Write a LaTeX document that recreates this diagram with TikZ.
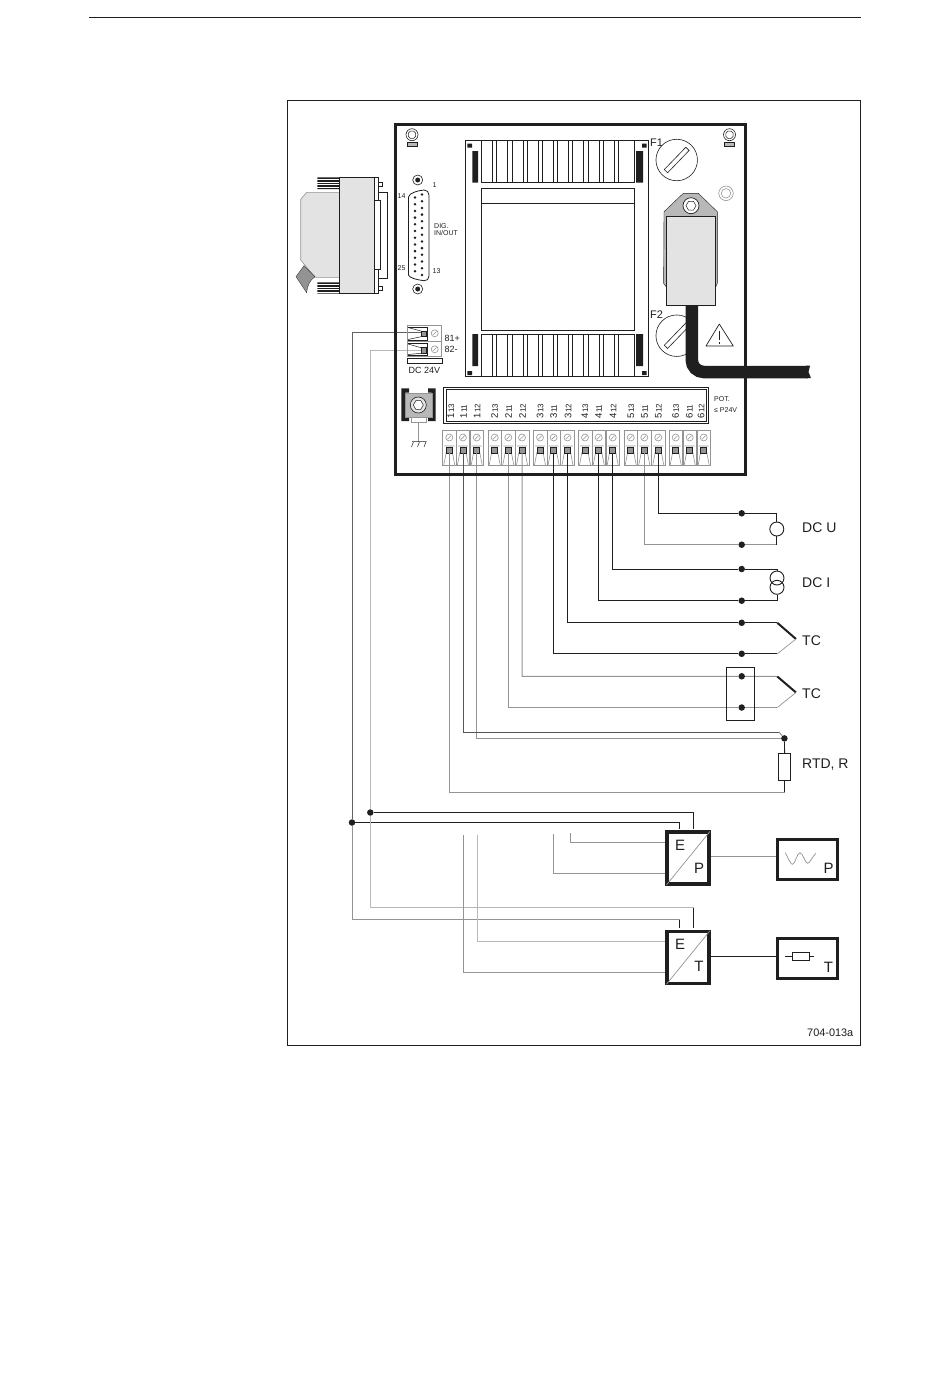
\documentclass[tikz,border=0pt]{standalone}
\usepackage{fontspec}
\setmainfont{Liberation Sans}
\usetikzlibrary{shapes.geometric,calc}
\definecolor{wgray}{gray}{0.58}
\definecolor{lgray}{gray}{0.89}
\definecolor{mgray}{gray}{0.72}
\definecolor{ink}{gray}{0.12}
\tikzset{
  wk/.style={draw=ink,line width=0.9pt,line join=miter},
  wg/.style={draw=wgray,line width=1pt},
  dot/.style={circle,fill=ink,draw=none,minimum size=6.5pt,inner sep=0pt},
  lab/.style={inner sep=0pt,font=\fontsize{14}{14}\selectfont,text=ink},
  smalllab/.style={inner sep=0pt,font=\fontsize{7}{8}\selectfont,text=ink},
  midlab/.style={inner sep=0pt,font=\fontsize{9}{9}\selectfont,text=ink},
  conv/.style={draw=ink,line width=3.5pt,fill=white},
  thin/.style={draw=ink,line width=0.6pt},
  fine/.style={draw=wgray,line width=0.6pt},
  screw/.style={circle,draw=wgray,line width=0.6pt,minimum size=7pt,inner sep=0pt},
}
\newcommand{\labnum}[2]{{\fontsize{9.5}{10}\selectfont #1\kern0.6pt}{\fontsize{8}{9}\selectfont #2}}
\begin{document}
\begin{tikzpicture}[x=1pt,y=-1pt]
\useasboundingbox (0,0) rectangle (950,1398);
\fill[white] (0,0) rectangle (950,1398);
% page rule and frame
\coordinate (ruleA) at (89,17); \coordinate (ruleB) at (861,17);
\draw[ink,line width=1pt] (ruleA) -- (ruleB);
\draw[ink,line width=0.8pt] (287.5,100.5) rectangle (860.5,1045);
\node[inner sep=0pt,anchor=east,font=\fontsize{10.9}{11}\selectfont,text=ink] (code) at (853.5,1032.5) {704-013a};

% external sub-D plug
\fill[ink] (317.3,177.3) rectangle (339.3,189) (317.3,282.3) rectangle (339.3,293.7);
\foreach \i in {0,...,3}{
  \draw[white,line width=0.5pt] (317.3,179+2.8*\i) -- (339.3,179+2.8*\i);
  \draw[white,line width=0.5pt] (317.3,284+2.8*\i) -- (339.3,284+2.8*\i);
}
\draw[wgray,line width=0.6pt,fill=lgray] (339.3,192.3) -- (306.7,192.3) -- (300.7,199.3) -- (300.7,260) -- (315,277.3) -- (339.3,277.3) -- cycle;
\draw[ink,line width=0.3pt,fill=gray!85!white] (304,265.7) -- (296,276.7) -- (306.7,292.7) .. controls (307.5,285) and (310,280) .. (315,276.7) -- cycle;
\draw[ink,line width=0.8pt,fill=lgray] (339.3,177.3) rectangle (374.3,293.7);
\draw[ink,line width=0.8pt,fill=white] (374.3,177.3) rectangle (378.7,293.7);
\draw[ink,line width=0.8pt,fill=white] (378.7,182.3) rectangle (382.7,186.3);
\draw[ink,line width=0.8pt,fill=white] (378.7,286.3) rectangle (382.7,290.3);
\draw[ink,line width=0.8pt,fill=white] (378.7,192) rectangle (387.7,278.7);
\draw[ink,line width=0.8pt,fill=white] (374.3,200.7) rectangle (380.7,269.3);

% terminals
\foreach \n/\x in {1/449.3,2/462.9,3/476.7,4/494.7,5/508.3,6/522,7/540,8/553.6,9/567.5,10/585,11/598.7,12/612.7,13/630.7,14/644.3,15/658.3,16/675.7,17/689.7,18/703.7}{
  \coordinate (T\n) at (\x,453);
  \draw[fine,fill=white] (\x-6.8,430.7) rectangle (\x+6.8,465);
  \node[screw] (S\n) at (\x,437.5) {};
  \draw[fine] (\x-1.8,439.3) -- (\x+1.8,435.7);
  \draw[fine] (\x-5.5,465) -- (\x-3,452) (\x+5.5,465) -- (\x+3,452) (\x-5,446) -- (\x+5,446);
  \draw[ink,line width=0.7pt,fill=wgray] (\x-3,447) rectangle (\x+3,453);
}
% wires, grey and black
\node[dot] (dUa) at (741.7,513.3) {};
\node[dot] (dUb) at (741.7,544.7) {};
\node[dot] (dIa) at (741.7,569) {};
\node[dot] (dIb) at (741.7,600.7) {};
\node[dot] (dTa) at (741.7,622.8) {};
\node[dot] (dTb) at (741.7,653.8) {};
\node[dot] (dRa) at (741.7,676.3) {};
\node[dot] (dRb) at (741.7,707.5) {};
\node[circle,draw=ink,line width=0.9pt,minimum size=14pt,inner sep=0pt] (cU) at (776.8,529) {};
\node[circle,draw=ink,line width=0.9pt,minimum size=14pt,inner sep=0pt] (cIa) at (777,578) {};
\node[circle,draw=ink,line width=0.9pt,minimum size=14pt,inner sep=0pt] (cIb) at (777,587.3) {};
\path[wk] (T15) |- (dUa) -| (cU.north);
\path[wg] (T14) |- (dUb);
\path[wg] (dUb) -- (776.8,544.7);
\path[wk] (776.8,544.7) -- (cU.south);
\path[wk] (T12) |- (dIa) -| (cIa.north);
\path[wk] (T11) |- (dIb) -| (cIb.south);
\coordinate (tcA) at (777.3,622.8); \coordinate (tcB) at (777.3,653.8); \coordinate (tcC) at (796,639);
\coordinate (tcD) at (777.3,676.5); \coordinate (tcE) at (777.3,707.5); \coordinate (tcF) at (796,692.5);
\path[wk] (T9) |- (dTa) -- (tcA);
\path[wk] (T8) |- (dTb) -- (tcB);
\draw[ink,line width=2pt] (tcA) -- (tcC);
\draw[wgray,line width=0.7pt] (tcC) -- (tcB);
\path[wg] (T6) |- (dRa) -- (tcD);
\path[wg] (T5) |- (dRb) -- (tcE);
\draw[ink,line width=2pt] (tcD) -- (tcF);
\draw[wgray,line width=0.7pt] (tcF) -- (tcE);
\node[draw=ink,line width=0.8pt,minimum width=27.8pt,minimum height=53.5pt,inner sep=0pt] (jbox) at (740.6,693.8) {};
\node[dot] (dR) at (784.4,738.4) {};
\node[draw=ink,line width=0.8pt,minimum width=12pt,minimum height=26.5pt,inner sep=0pt] (rtd) at (784.6,766.8) {};
\coordinate (rC) at (779,732);
\path[wg] (T3) |- (dR);
\path[draw=ink!75,line width=0.8pt] (T2) |- (rC);
\path[wg] (rC) -- (dR);
\path[wk] (dR) -- (rtd.north);
\path[wk] (rtd.south) -- (784.6,792.3);
\path[wg] (T1) |- (784.6,792.3);

% converters
\node[conv,minimum width=42pt,minimum height=52pt,inner sep=0pt] (EP) at (688.2,858.2) {};
\node[conv,minimum width=42pt,minimum height=52pt,inner sep=0pt] (ET) at (688.2,957.5) {};
\draw[wgray,line width=0.7pt] (EP.south west) ++(1,-1) -- ($(EP.north east)+(-1,1)$);
\draw[wgray,line width=0.7pt] (ET.south west) ++(1,-1) -- ($(ET.north east)+(-1,1)$);
\node[lab,font=\fontsize{15}{15}\selectfont] at (680,845) {E};
\node[lab,font=\fontsize{15}{15}\selectfont] at (699,868) {P};
\node[lab,font=\fontsize{15}{15}\selectfont] at (680,944) {E};
\node[lab,font=\fontsize{15}{15}\selectfont] at (699,966) {T};
\node[conv,minimum width=60pt,minimum height=40pt,inner sep=0pt] (bP) at (807.3,859.5) {};
\node[conv,minimum width=60pt,minimum height=40pt,inner sep=0pt] (bT) at (807.3,958.5) {};
\node[lab,font=\fontsize{15}{15}\selectfont] at (828.5,868.5) {P};
\node[lab,font=\fontsize{15}{15}\selectfont] at (828.5,967) {T};
\draw[wgray,line width=0.7pt] (785.3,852.7) .. controls (789,860) and (791,865) .. (792.7,864.3) .. controls (795,864) and (797,853) .. (800,852.7) .. controls (803,853) and (805,863.5) .. (807.7,863.3) .. controls (810,863) and (812,857) .. (816,853.3);
\node[draw=ink,line width=0.6pt,minimum width=17pt,minimum height=8.4pt,inner sep=0pt] (rP) at (800.8,956.5) {};
\draw[thin] (784.7,956.5) -- (rP.west) (rP.east) -- (814,956.5);
\draw[wgray,line width=1.2pt] (EP.east |- 0,856.7) -- (bP.west |- 0,856.7);
\draw[wk] (ET.east |- 0,956) -- (bT.west |- 0,956);

% supply lines
\node[dot] (dA) at (370.3,812.5) {};
\node[dot] (dB) at (352,822.5) {};
\coordinate (EPa) at (693.5,829); \coordinate (EPb) at (679.5,829);
\coordinate (ETa) at (693.5,928); \coordinate (ETb) at (679.5,928);
\path[wk] (dA) -| (EPa);
\path[wk] (dB) -| (EPb);
\coordinate (sA) at (424,350.3); \coordinate (sB) at (424,332.7);
\path[wg,draw=mgray,line width=1.2pt] (sA) -| (dA);
\path[wk,draw=ink!70] (sB) -| (dB);
\path[wg,draw=mgray,line width=1.2pt] (dA) |- (693.5,907.5);
\path[wk] (693.5,907.5) -- (ETa);
\path[wg] (dB) |- (679.5,919.5);
\path[wk] (679.5,919.5) -- (ETb);
% signal stubs
\coordinate (stA) at (570,833); \coordinate (stB) at (553,834);
\coordinate (stC) at (477,835); \coordinate (stD) at (463,835);
\draw[wgray,line width=0.8pt] (stA) |- (EP.west |- 0,842.7);
\draw[wgray,line width=0.8pt] (stB) |- (EP.west |- 0,873.5);
\draw[mgray,line width=1pt] (stC) |- (ET.west |- 0,941.7);
\draw[wgray,line width=0.8pt] (stD) |- (ET.west |- 0,972.5);

% labels at right
\node[lab,anchor=west] at (802,527.5) {DC U};
\node[lab,anchor=west] at (802,583) {DC I};
\node[lab,anchor=west] at (802,641) {TC};
\node[lab,anchor=west] at (802,694) {TC};
\node[lab,anchor=west] at (802,765) {RTD, R};

% board
\draw[ink,line width=3.8pt] (395.5,124.5) rectangle (745.5,474.5);

% fixing screws
\foreach \n/\x/\ry in {a/412/0,b/729.5/0}{
  \node[circle,draw=ink,line width=0.6pt,minimum size=12pt,inner sep=0pt] (fx\n) at (\x,134.7) {};
  \node[regular polygon,regular polygon sides=8,draw=ink,line width=0.5pt,minimum size=8pt,inner sep=0pt] at (\x,134.7) {};
  \draw[ink,line width=0.5pt,fill=mgray] (\x-5.2,142.3) rectangle (\x+5.2,146.3);
}

% sub-D socket
\node[circle,draw=ink,line width=0.6pt,minimum size=10pt,inner sep=0pt,fill=white] (sc1) at (417.7,180) {};
\node[dot,minimum size=5pt] at (sc1) {};
\node[circle,draw=ink,line width=0.6pt,minimum size=10pt,inner sep=0pt,fill=white] (sc2) at (417.7,289) {};
\node[dot,minimum size=5pt] at (sc2) {};
\draw[ink,line width=0.8pt] (408.5,197) .. controls (409,193) and (418,190.5) .. (424,190) .. controls (427,190) and (429,192) .. (429,195) -- (429,276) .. controls (429,279) and (427,281) .. (424,280.7) .. controls (418,280) and (409,278) .. (408.5,275) -- cycle;
\foreach \i in {0,...,12}{\fill[ink] (422,194.5+6.7*\i) circle (1.4pt);}
\foreach \i in {0,...,11}{\fill[ink] (415,197.5+6.7*\i) circle (1.4pt);}
\node[smalllab] at (434.5,185.5) {1};
\node[smalllab] at (401.5,196.5) {14};
\node[smalllab] at (401.5,268.5) {25};
\node[smalllab] at (436.5,271) {13};
\node[smalllab,anchor=west,align=left] at (434,229.5) {DIG.\\[-1pt]IN/OUT};

% transformer
\draw[ink,line width=0.7pt] (465.3,140.7) rectangle (648.7,376.7);
\draw[ink,line width=0.7pt] (481.3,140.7) rectangle (634,182.7);
\draw[ink,line width=0.7pt] (481.3,334) rectangle (634,376.7);
\foreach \k in {0,...,8}{
  \pgfmathsetmacro{\xa}{492.5+15.2*\k}
  \pgfmathsetmacro{\xb}{\xa+4.3}
  \draw[ink,line width=0.7pt] (\xa,140.7) -- (\xa,182.7) (\xb,140.7) -- (\xb,182.7);
  \draw[ink,line width=0.7pt] (\xa,334) -- (\xa,376.7) (\xb,334) -- (\xb,376.7);
}
\draw[ink,line width=0.7pt] (481.3,188.3) rectangle (634,330.3);
\draw[ink,line width=0.7pt] (481.3,203.3) -- (634,203.3);
\fill[ink] (472.3,151) rectangle (478,182.7) (636,151) rectangle (643,182.7);
\fill[ink] (472.3,334) rectangle (478,366) (636,334) rectangle (643,366);
\fill[ink] (467.3,143.5) rectangle (472,147.7) (642,143.5) rectangle (646.7,147.7);
\fill[ink] (467.3,371) rectangle (472,375) (642,371) rectangle (646.7,375);

% fuses
\node[circle,draw=ink,line width=0.6pt,minimum size=41.5pt,inner sep=0pt] (F1) at (676.7,160) {};
\node[circle,draw=ink,line width=0.6pt,minimum size=41.5pt,inner sep=0pt] (F2) at (676.7,335.7) {};
\node[draw=ink,line width=0.6pt,rotate=46,minimum width=31pt,minimum height=4.6pt,inner sep=0pt] at (F1) {};
\node[draw=ink,line width=0.6pt,rotate=46,minimum width=31pt,minimum height=4.6pt,inner sep=0pt] at (F2) {};
\node[midlab,font=\fontsize{11}{11}\selectfont,anchor=west] at (650,143) {F1};
\node[midlab,font=\fontsize{11}{11}\selectfont,anchor=west] at (650,315) {F2};
\node[circle,draw=wgray,line width=0.6pt,minimum size=14.5pt,inner sep=0pt] (ringo) at (726,193.3) {};
\node[circle,draw=wgray,line width=0.6pt,minimum size=9.5pt,inner sep=0pt] at (ringo) {};

% mains plug and cable
\draw[ink,line width=0.4pt,fill=mgray] (664,211.7) -- (683.3,193.3) -- (698.3,193.3) -- (717.3,211.7) -- (717.3,283.3) -- (715.7,287) -- (666.3,287) -- (663.6,283.3) -- cycle;
\draw[ink,line width=0.7pt,fill=lgray] (666.3,216.7) rectangle (715.7,305.3);
\node[circle,draw=ink,line width=0.7pt,fill=white,minimum size=16pt,inner sep=0pt] (plugscrew) at (691,205.7) {};
\node[regular polygon,regular polygon sides=6,draw=ink,line width=0.5pt,minimum size=10pt,inner sep=0pt] at (plugscrew) {};
\draw[ink,line width=12.5pt,rounded corners=12pt] (691.8,305) -- (691.8,372) -- (808,372);
\fill[ink] (806,365.7) -- (810,365.7) -- (808.5,372) -- (811,378.2) -- (806,378.2) -- cycle;
\draw[ink,line width=0.7pt,line join=round] (719.3,324) -- (706,346) -- (733.3,346) -- cycle;
\draw[ink,line width=0.8pt] (719.5,330.5) -- (719.5,340) (719.5,342) -- (719.5,343.5);

% DC 24V terminals
\draw[fine] (407.7,325) rectangle (441.7,356);
\draw[fine] (407.7,341.7) -- (441.7,341.7);
\draw[ink,line width=0.6pt] (407.7,327) -- (427.3,327) -- (427.3,340) -- (407.7,340);
\draw[ink,line width=0.6pt] (407.7,343.6) -- (427.3,343.6) -- (427.3,355) -- (407.7,355);
\draw[ink,line width=0.6pt,fill=wgray] (421,331) rectangle (426.7,336.7);
\draw[ink,line width=0.6pt,fill=wgray] (421,347.7) rectangle (426.7,353.3);
\draw[ink,line width=0.5pt] (408,327.5) -- (421,331) (408,339.5) -- (421,336.7) (408,344) -- (421,347.7) (408,354.5) -- (421,353.3);
\node[screw] (s81) at (434.7,333.3) {};
\node[screw] (s82) at (434.7,349.3) {};
\draw[fine] (433,335) -- (436.4,331.6) (433,351) -- (436.4,347.6);
\node[midlab,anchor=west] at (444.5,338) {81+};
\node[midlab,anchor=west] at (444.5,349) {82-};
\draw[ink,line width=0.7pt] (407.7,358.3) rectangle (442.3,363.7);
\node[midlab] at (424.5,370.5) {DC 24V};

% earth block
\fill[ink] (401.3,388.3) rectangle (405.3,421) (405.3,388.3) rectangle (409,392.7) (405.3,417.3) rectangle (409,421);
\fill[ink] (431.7,388.3) rectangle (435.7,421) (428,388.3) rectangle (431.7,392.7) (428,417.3) rectangle (431.7,421);
\draw[wgray,fill=mgray,line width=0.4pt] (405.3,392.7) rectangle (431.7,417.3);
\node[circle,draw=ink,line width=0.6pt,fill=lgray,minimum size=16pt,inner sep=0pt] (gs) at (418.3,405) {};
\node[regular polygon,regular polygon sides=6,draw=ink,line width=0.5pt,fill=white,minimum size=10pt,inner sep=0pt] at (gs) {};
\draw[wgray,line width=0.5pt,fill=white] (411,417.3) rectangle (426,422.7);
\coordinate (gnd) at (418.7,441.7);
\draw[wgray,line width=0.7pt] (418.7,422.7) -- (gnd);
\draw[ink,line width=0.5pt] (412,441.7) -- (426.5,441.7) (413.5,441.7) -- (411.5,447) (419.5,441.7) -- (417.5,447) (426,441.7) -- (424,447);

% potential strip
\draw[ink,line width=0.8pt] (443.3,387.3) rectangle (708.3,423.3);
\draw[ink,line width=0.8pt] (446,389.2) rectangle (706.6,421.6);
\foreach \x/\a/\b in {451/1/13,463.5/1/11,477/1/12,494.5/2/13,508.5/2/11,522.5/2/12,540/3/13,553.7/3/11,568/3/12,585/4/13,598.7/4/11,613/4/12,631/5/13,644.7/5/11,658.5/5/12,675.7/6/13,689.3/6/11,701/6/12}{
  \node[rotate=90,anchor=west,inner sep=0pt,text=ink] at (\x,419) {\labnum{\a}{\b}};
}
\node[smalllab,anchor=west] at (714,399.5) {POT.};
\node[smalllab,anchor=west] at (714,410) {≤ P24V};
\end{tikzpicture}
\end{document}
